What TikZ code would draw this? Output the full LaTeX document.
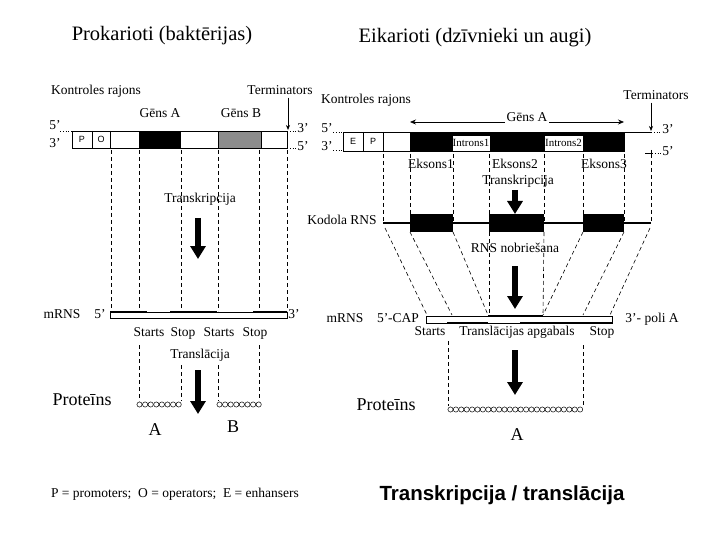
\documentclass[tikz,border=0pt]{standalone}
\usepackage{fontspec}
\setmainfont{Liberation Serif}
\newfontfamily\sansf{Liberation Sans}
\usetikzlibrary{arrows.meta}
\tikzset{
  lbl/.style={font=\fontsize{13.5}{15}\selectfont, inner sep=1pt, text height=0.7em, text depth=0.2em},
  smalllbl/.style={font=\fontsize{11}{13}\selectfont, inner sep=0.5pt},
  titlelbl/.style={font=\fontsize{20.5}{24}\selectfont, inner sep=1pt, text height=0.72em, text depth=0.22em},
  protlbl/.style={font=\fontsize{18}{21}\selectfont, inner sep=1pt, text height=0.7em, text depth=0.2em},
  celllbl/.style={font=\sansf\fontsize{9}{11}\selectfont, inner sep=0pt},
  dashline/.style={dashed, dash pattern=on 4pt off 3pt, line width=0.6pt},
  bigarrow/.style={line width=6pt, -{Triangle[length=13pt,width=15pt]}},
  thinarrow/.style={line width=0.7pt, -{Stealth[length=5pt,width=4pt]}},
  strand/.style={line width=0.8pt},
  dotline/.style={dotted, line width=0.8pt},
  bead/.style={line width=0.5pt}
}
\begin{document}
\begin{tikzpicture}[x=1pt,y=-1pt]
\useasboundingbox (0,0) rectangle (720,540);

% ===== Titles =====
\node[titlelbl] (t1) at (162,38) {Prokarioti (baktērijas)};
\node[titlelbl] (t2) at (475,40) {Eikarioti (dzīvnieki un augi)};

% ===== LEFT: Prokaryote =====
\node[lbl, anchor=west] (kr1) at (50,92) {Kontroles rajons};
\node[lbl] (term1) at (280,92) {Terminators};
\node[lbl] (gA) at (160,115) {Gēns A};
\node[lbl] (gB) at (241,115) {Gēns B};

% DNA
\draw[strand, fill=white] (72,131) rectangle (287,148);
\draw[strand] (92,131) -- (92,148);
\draw[strand] (110,131) -- (110,148);
\node[celllbl] (P1) at (82,139.5) {P};
\node[celllbl] (O1) at (101,139.5) {O};
\fill (139,131) rectangle (181,148);
\fill[black!45] (218,131) rectangle (261,148);
\draw[strand] (218,131) rectangle (261,148);
\coordinate (l5a) at (60,131); \coordinate (l5b) at (72,131);
\draw[dotline] (l5a) -- (l5b);
\node[lbl] (l5) at (55,127) {5'};
\node[lbl] (l3) at (55,145) {3'};
\coordinate (r3a) at (287,131); \coordinate (r3b) at (297,131);
\coordinate (r5a) at (287,148); \coordinate (r5b) at (297,148);
\draw[dotline] (r3a) -- (r3b);
\draw[dotline] (r5a) -- (r5b);
\node[lbl] (r3) at (303,130) {3'};
\node[lbl] (r5) at (303,148) {5'};
\coordinate (term1tip) at (288,130);
\draw[thinarrow] (term1.south -| term1tip) -- (term1tip);

% dashed verticals DNA -> mRNA
\foreach \x in {111,139,181,218,259,287} {
  \draw[dashline] (\x,150) -- (\x,311);
}
\node[lbl] (tr1) at (200,200) {Transkripcija};
\coordinate (a1s) at (198,218); \coordinate (a1e) at (198,259);
\draw[bigarrow] (a1s) -- (a1e);

% mRNA left
\node[lbl] (m1) at (62,316) {mRNS};
\node[lbl] (m15) at (100,316) {5'};
\draw[strand, fill=white] (110,312) rectangle (287,318);
\draw[line width=1.6pt] (110,312) -- (147,312);
\draw[line width=1.6pt] (170,312) -- (217,312);
\draw[line width=1.6pt] (253,312) -- (287,312);
\node[lbl] (m13) at (294,316) {3'};
\node[lbl] (st1) at (149,334) {Starts};
\node[lbl] (sp1) at (183,334) {Stop};
\node[lbl] (st2) at (219,334) {Starts};
\node[lbl] (sp2) at (255,334) {Stop};
\node[lbl] (tl1) at (200,356) {Translācija};

\draw[dashline] (139,345) -- (139,401);
\draw[dashline] (181,365) -- (181,401);
\draw[dashline] (218,365) -- (218,401);
\draw[dashline] (259,345) -- (259,401);
\coordinate (a2s) at (198,370); \coordinate (a2e) at (198,414);
\draw[bigarrow] (a2s) -- (a2e);

\node[protlbl] (pr1) at (82,403) {Proteīns};
\foreach \i in {0,...,7} { \draw[bead] ({139.5+\i*5.6},404.5) circle[radius=2.6]; }
\foreach \i in {0,...,7} { \draw[bead] ({219.5+\i*5.6},404.5) circle[radius=2.6]; }
\node[protlbl] (pA1) at (155,433) {A};
\node[protlbl] (pB1) at (233,430) {B};

\node[lbl] (foot) at (175,495) {P = promoters;\ \ O = operators;\ \ E = enhansers};

% ===== RIGHT: Eukaryote =====
\node[lbl, anchor=west] (kr2) at (320,101) {Kontroles rajons};
\node[lbl] (term2) at (656,97) {Terminators};
\coordinate (gL) at (410,122); \coordinate (gR) at (624,122);
\draw[line width=0.7pt, {Stealth[length=6pt,width=5pt]}-{Stealth[length=6pt,width=5pt]}] (gL) -- (gR);
\node[lbl, fill=white, inner sep=2pt] (gA2) at (527,119) {Gēns A};

% DNA right
\draw[strand, fill=white] (343,132) rectangle (624,151);
\draw[strand] (363,132) -- (363,151);
\draw[strand] (383,132) -- (383,151);
\node[celllbl] (E2) at (353,141) {E};
\node[celllbl] (P2) at (373,141) {P};
\fill (410,132) rectangle (624,151);
\node[smalllbl, draw, fill=white, minimum width=36pt, minimum height=16pt, line width=0.5pt] (in1) at (471,143) {Introns1};
\node[smalllbl, draw, fill=white, minimum width=39pt, minimum height=16pt, line width=0.5pt] (in2) at (563.5,143) {Introns2};
\coordinate (topend) at (651,132);
\draw[strand] (624,132) -- (topend);
\coordinate (L5a) at (333,132); \coordinate (L5b) at (343,132);
\coordinate (L3a) at (333,150); \coordinate (L3b) at (343,150);
\draw[dotline] (L5a) -- (L5b);
\draw[dotline] (L3a) -- (L3b);
\node[lbl] (L5) at (327,130) {5'};
\node[lbl] (L3) at (327,148) {3'};
\coordinate (R3a) at (651,132); \coordinate (R3b) at (662,132);
\coordinate (R5a) at (645,153); \coordinate (R5b) at (662,153);
\draw[dotline] (R3a) -- (R3b);
\draw[line width=0.6pt] (R5a) -- (652,153);
\draw[dotline] (652,153) -- (R5b);
\draw[line width=0.6pt] (651,150) -- (651,156);
\node[lbl] (R3) at (668,131) {3'};
\node[lbl] (R5) at (668,153) {5'};
\coordinate (term2tip) at (651,131);
\draw[thinarrow] (term2.south -| term2tip) -- (term2tip);

\node[lbl] (ek1) at (431,166) {Eksons1};
\node[lbl] (ek2) at (515,166) {Eksons2};
\node[lbl] (ek3) at (604,166) {Eksons3};
\node[lbl] (tr2) at (518,182) {Transkripcija};
\coordinate (a3s) at (515,190); \coordinate (a3e) at (515,214);
\draw[bigarrow] (a3s) -- (a3e);

\foreach \x in {383,410,453,489,544,583,624,651} {
  \draw[dashline] (\x,154) -- (\x,222);
}

% Kodola RNS
\node[lbl] (kod) at (342,222) {Kodola RNS};
\draw[line width=1.2pt] (383,223) -- (651,223);
\fill (410,214) rectangle (453,232);
\fill (489,214) rectangle (544,232);
\fill (583,214) rectangle (624,232);

% splicing lines
\draw[dashline] (385,228) -- (427,315);
\draw[dashline] (410,232) -- (452,315);
\draw[dashline] (453,232) -- (488,315);
\draw[dashline] (489,232) -- (489,315);
\draw[dashline] (544,232) -- (543,315);
\draw[dashline] (583,232) -- (543,315);
\draw[dashline] (624,232) -- (583,315);
\draw[dashline] (650,228) -- (610,315);

\node[lbl] (nob) at (515,250) {RNS nobriešana};
\coordinate (a4s) at (515,266); \coordinate (a4e) at (515,309);
\draw[bigarrow] (a4s) -- (a4e);

% mRNA right
\node[lbl] (m2) at (345,320) {mRNS};
\node[lbl] (cap) at (398,320) {5'-CAP};
\draw[strand, fill=white] (426,316) rectangle (612,323);
\draw[line width=1.6pt] (488,316) -- (543,316);
\draw[line width=1.6pt] (447,323) -- (488,323);
\draw[line width=1.6pt] (520,323) -- (612,323);
\node[lbl] (polyA) at (652,320) {3'- poli A};
\node[lbl] (st3) at (430,333) {Starts};
\node[lbl] (tap) at (517,333) {Translācijas apgabals};
\node[lbl] (sp3) at (602,333) {Stop};

\draw[dashline] (448,341) -- (448,406);
\draw[dashline] (583,345) -- (583,406);
\coordinate (a5s) at (515,350); \coordinate (a5e) at (515,395);
\draw[bigarrow] (a5s) -- (a5e);

\node[protlbl] (pr2) at (386,408) {Proteīns};
\foreach \i in {0,...,24} { \draw[bead] ({450.5+\i*5.4},409.5) circle[radius=2.6]; }
\node[protlbl] (pA2) at (517,438) {A};

\node[font=\sansf\bfseries\fontsize{20.5}{24}\selectfont, inner sep=1pt] (bt) at (502,495) {Transkripcija / translācija};
\end{tikzpicture}
\end{document}
